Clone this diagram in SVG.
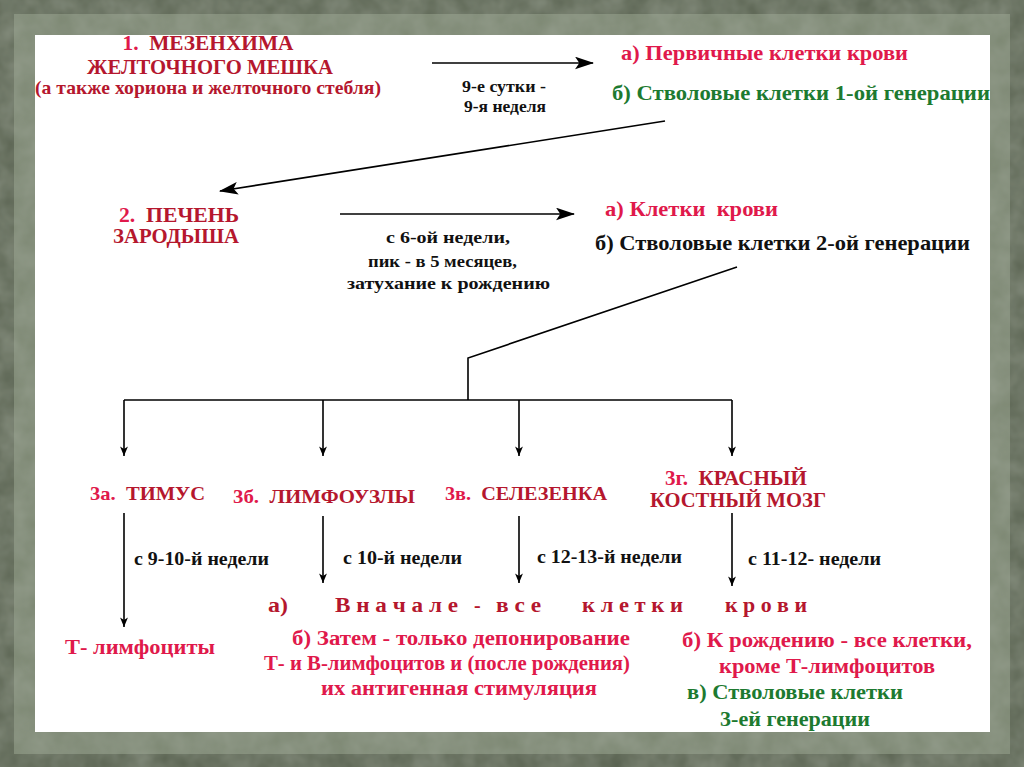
<svg xmlns="http://www.w3.org/2000/svg" width="1024" height="767" viewBox="0 0 1024 767">
<defs>
<marker id="ah" viewBox="0 0 18 12" refX="17" refY="6" markerWidth="19" markerHeight="13" markerUnits="userSpaceOnUse" orient="auto">
<path d="M0,0 L18,6 L0,12 L4,6 Z" fill="#000"/>
</marker>
<marker id="ahs" viewBox="0 0 12 14" refX="12" refY="5" markerWidth="15" markerHeight="11" markerUnits="userSpaceOnUse" orient="auto">
<path d="M0,0 L12,5 L0,10 L3,5 Z" fill="#000"/>
</marker>
<filter id="rough"><feTurbulence type="fractalNoise" baseFrequency="0.04" numOctaves="3" seed="3"/><feColorMatrix values="0 0 0 0 0.36 0 0 0 0 0.40 0 0 0 0 0.33 0 0 0 0.6 0"/><feComposite in2="SourceGraphic" operator="in"/></filter>
</defs>
<style>
text{font-family:"Liberation Serif","Times New Roman",serif;font-weight:bold;white-space:pre;}
.dr{fill:#b5172e;}
.pk{fill:#e0194b;}
.gr{fill:#1d7a30;}
.bk{fill:#111;}
.conn line,.conn polyline{stroke:#000;stroke-width:1.6;fill:none;}
</style>
<rect width="1024" height="767" fill="#58614f"/>
<rect x="14" y="14" width="996" height="740" fill="#7b8671"/>
<rect width="1024" height="767" filter="url(#rough)"/>
<rect x="35" y="35" width="955" height="697" fill="#fff"/>

<g id="node-mesenchyme">
<text x="208" y="50" font-size="21" text-anchor="middle" textLength="171" lengthAdjust="spacingAndGlyphs"><tspan class="pk">1.  </tspan><tspan class="dr">МЕЗЕНХИМА</tspan></text>
<text class="dr" x="210" y="74" font-size="21" text-anchor="middle" textLength="246" lengthAdjust="spacingAndGlyphs">ЖЕЛТОЧНОГО МЕШКА</text>
<text class="dr" x="208" y="94" font-size="19" text-anchor="middle" textLength="346" lengthAdjust="spacingAndGlyphs">(а также хориона и желточного стебля)</text>
</g>

<g id="node-gen1">
<text class="pk" x="621" y="60" font-size="21" textLength="287" lengthAdjust="spacingAndGlyphs">а) Первичные клетки крови</text>
<text class="gr" x="612" y="100" font-size="21" textLength="378" lengthAdjust="spacingAndGlyphs">б) Стволовые клетки 1-ой генерации</text>
</g>

<g id="label-1">
<text class="bk" x="504" y="92" font-size="17" text-anchor="middle" textLength="84" lengthAdjust="spacingAndGlyphs">9-е сутки -</text>
<text class="bk" x="505" y="112" font-size="17" text-anchor="middle" textLength="82" lengthAdjust="spacingAndGlyphs">9-я неделя</text>
</g>

<g id="node-liver">
<text x="119" y="222" font-size="20" textLength="120" lengthAdjust="spacingAndGlyphs"><tspan class="pk">2.  </tspan><tspan class="dr">ПЕЧЕНЬ</tspan></text>
<text class="dr" x="113" y="243" font-size="20" textLength="126" lengthAdjust="spacingAndGlyphs">ЗАРОДЫША</text>
</g>

<g id="label-2">
<text class="bk" x="386" y="243" font-size="17" textLength="124" lengthAdjust="spacingAndGlyphs">с 6-ой недели,</text>
<text class="bk" x="368" y="267" font-size="17" textLength="149" lengthAdjust="spacingAndGlyphs">пик - в 5 месяцев,</text>
<text class="bk" x="347" y="289" font-size="17" textLength="203" lengthAdjust="spacingAndGlyphs">затухание к рождению</text>
</g>

<g id="node-gen2">
<text class="pk" x="605" y="216" font-size="21" textLength="173" lengthAdjust="spacingAndGlyphs">а) Клетки  крови</text>
<text class="bk" x="595" y="250" font-size="21" textLength="375" lengthAdjust="spacingAndGlyphs">б) Стволовые клетки 2-ой генерации</text>
</g>

<g id="node-thymus">
<text x="90" y="500" font-size="19" textLength="115" lengthAdjust="spacingAndGlyphs"><tspan class="pk">3а.  </tspan><tspan class="dr">ТИМУС</tspan></text>
</g>
<g id="node-lymph">
<text x="233" y="503" font-size="19" textLength="182" lengthAdjust="spacingAndGlyphs"><tspan class="pk">3б.  </tspan><tspan class="dr">ЛИМФОУЗЛЫ</tspan></text>
</g>
<g id="node-spleen">
<text x="445" y="500" font-size="19" textLength="162" lengthAdjust="spacingAndGlyphs"><tspan class="pk">3в.  </tspan><tspan class="dr">СЕЛЕЗЕНКА</tspan></text>
</g>
<g id="node-marrow">
<text x="665" y="485" font-size="20" textLength="142" lengthAdjust="spacingAndGlyphs"><tspan class="pk">3г.  </tspan><tspan class="dr">КРАСНЫЙ</tspan></text>
<text class="dr" x="650" y="507" font-size="20" textLength="176" lengthAdjust="spacingAndGlyphs">КОСТНЫЙ МОЗГ</text>
</g>

<g id="labels-3">
<text class="bk" x="134" y="565" font-size="18" textLength="135" lengthAdjust="spacingAndGlyphs">с 9-10-й недели</text>
<text class="bk" x="343" y="564" font-size="18" textLength="119" lengthAdjust="spacingAndGlyphs">с 10-й недели</text>
<text class="bk" x="537" y="563" font-size="18" textLength="145" lengthAdjust="spacingAndGlyphs">с 12-13-й недели</text>
<text class="bk" x="748" y="565" font-size="18" textLength="133" lengthAdjust="spacingAndGlyphs">с 11-12- недели</text>
</g>

<g id="node-tcells">
<text class="pk" x="65" y="654" font-size="20" textLength="150" lengthAdjust="spacingAndGlyphs">Т- лимфоциты</text>
</g>

<g id="node-all-cells">
<text class="dr" x="268" y="612" font-size="20" textLength="20" lengthAdjust="spacingAndGlyphs">а)</text>
<text class="dr" x="335" y="612" font-size="20" textLength="123" lengthAdjust="spacingAndGlyphs">В н а ч а л е</text>
<text class="dr" x="474" y="612" font-size="20">-</text>
<text class="dr" x="496" y="612" font-size="20" textLength="45" lengthAdjust="spacingAndGlyphs">в с е</text>
<text class="dr" x="582" y="612" font-size="20" textLength="101" lengthAdjust="spacingAndGlyphs">к л е т к и</text>
<text class="dr" x="725" y="612" font-size="20" textLength="82" lengthAdjust="spacingAndGlyphs">к р о в и</text>
</g>

<g id="node-deposit">
<text class="pk" x="292" y="645" font-size="20" textLength="338" lengthAdjust="spacingAndGlyphs">б) Затем - только депонирование</text>
<text class="pk" x="264" y="670" font-size="20" textLength="366" lengthAdjust="spacingAndGlyphs">Т- и В-лимфоцитов и (после рождения)</text>
<text class="pk" x="321" y="695" font-size="20" textLength="276" lengthAdjust="spacingAndGlyphs">их антигенная стимуляция</text>
</g>

<g id="node-marrow-out">
<text class="pk" x="682" y="647" font-size="21" textLength="290" lengthAdjust="spacingAndGlyphs">б) К рождению - все клетки,</text>
<text class="pk" x="719" y="673" font-size="21" textLength="216" lengthAdjust="spacingAndGlyphs">кроме Т-лимфоцитов</text>
<text class="gr" x="687" y="699" font-size="21" textLength="216" lengthAdjust="spacingAndGlyphs">в) Стволовые клетки</text>
<text class="gr" x="720" y="726" font-size="21" textLength="150" lengthAdjust="spacingAndGlyphs">3-ей генерации</text>
</g>

<g id="connectors" class="conn">
<line x1="432" y1="63" x2="593" y2="63" marker-end="url(#ah)"/>
<line x1="665" y1="121" x2="220" y2="191" marker-end="url(#ah)"/>
<line x1="340" y1="214" x2="574" y2="214" marker-end="url(#ah)"/>
<polyline points="737,267 468,358 468,400"/>
<line x1="124" y1="400" x2="732" y2="400"/>
<line x1="124" y1="400" x2="124" y2="456" marker-end="url(#ahs)"/>
<line x1="323" y1="400" x2="323" y2="456" marker-end="url(#ahs)"/>
<line x1="519" y1="400" x2="519" y2="456" marker-end="url(#ahs)"/>
<line x1="732" y1="400" x2="732" y2="456" marker-end="url(#ahs)"/>
<line x1="124" y1="513" x2="124" y2="627" marker-end="url(#ahs)"/>
<line x1="323" y1="516" x2="323" y2="583" marker-end="url(#ahs)"/>
<line x1="519" y1="516" x2="519" y2="583" marker-end="url(#ahs)"/>
<line x1="732" y1="513" x2="732" y2="586" marker-end="url(#ahs)"/>
</g>
</svg>
